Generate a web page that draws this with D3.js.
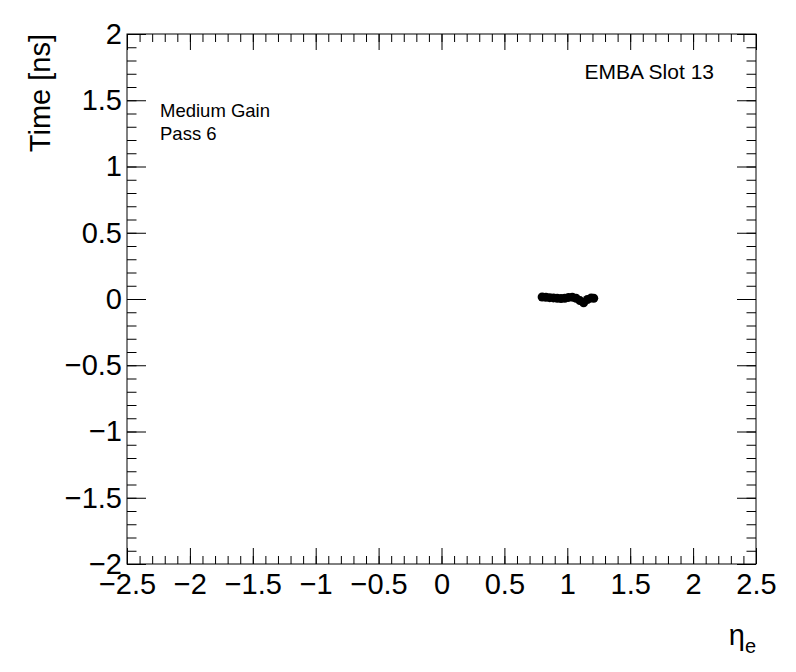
<!DOCTYPE html>
<html>
<head>
<meta charset="utf-8">
<script src="https://cdn.jsdelivr.net/npm/d3@7"></script>
<style>
  body { margin: 0; background: #fff; }
  svg { font-family: "Liberation Sans", Arial, sans-serif; }
</style>
</head>
<body>
<div id="chart"></div>
<script>
// eta positions of the cells and their time offsets (ns)
const etaVals = [0.80, 0.83, 0.86, 0.89, 0.92, 0.95, 0.98, 1.01, 1.04, 1.07, 1.10, 1.13, 1.16, 1.19, 1.21]
const timeVals = [0.015, 0.013, 0.01, 0.008, 0.005, 0.003, 0.006, 0.012, 0.014, 0.006, -0.012, -0.028, -0.004, 0.008, 0.006]
const xTicks = [-2.5, -2, -1.5, -1, -0.5, 0, 0.5, 1, 1.5, 2, 2.5]
const yTicks = [-2, -1.5, -1, -0.5, 0, 0.5, 1, 1.5, 2]
const infoLines = ['Medium Gain', 'Pass 6']
const moduleLabel = 'EMBA Slot 13'

const w = 796
const h = 672
const padL = 127, padR = 756, padT = 34, padB = 564

const x = d3.scaleLinear().domain([-2.5, 2.5]).range([padL, padR])
const y = d3.scaleLinear().domain([-2, 2]).range([padB, padT])

const xMinor = d3.range(-25, 26).map(d => d / 10)
const yMinor = d3.range(-20, 21).map(d => d / 10)
const fmt = d3.format('~g')

const svg = d3.select('#chart').append('svg')
  .attr('width', w)
  .attr('height', h)

// minor ticks (all four sides, pointing inward)
svg.append('g').attr('transform', `translate(0,${padB})`)
  .call(d3.axisBottom(x).tickValues(xMinor).tickSize(-8).tickFormat(''))
svg.append('g').attr('transform', `translate(0,${padT})`)
  .call(d3.axisTop(x).tickValues(xMinor).tickSize(-8).tickFormat(''))
svg.append('g').attr('transform', `translate(${padL},0)`)
  .call(d3.axisLeft(y).tickValues(yMinor).tickSize(-9.5).tickFormat(''))
svg.append('g').attr('transform', `translate(${padR},0)`)
  .call(d3.axisRight(y).tickValues(yMinor).tickSize(-9.5).tickFormat(''))

// major ticks with labels
const xAxis = svg.append('g').attr('transform', `translate(0,${padB})`)
  .call(d3.axisBottom(x).tickValues(xTicks).tickSize(-16).tickPadding(9).tickFormat(fmt))
svg.append('g').attr('transform', `translate(0,${padT})`)
  .call(d3.axisTop(x).tickValues(xTicks).tickSize(-16).tickFormat(''))
const yAxis = svg.append('g').attr('transform', `translate(${padL},0)`)
  .call(d3.axisLeft(y).tickValues(yTicks).tickSize(-19).tickPadding(5).tickFormat(fmt))
svg.append('g').attr('transform', `translate(${padR},0)`)
  .call(d3.axisRight(y).tickValues(yTicks).tickSize(-19).tickFormat(''))

svg.selectAll('.domain').remove()
svg.selectAll('.tick line').attr('stroke', '#000').attr('stroke-width', 1)
xAxis.selectAll('text').attr('font-size', 29).attr('fill', '#000')
  .attr('font-family', '"Liberation Sans", Arial, sans-serif')
yAxis.selectAll('text').attr('font-size', 29).attr('fill', '#000')
  .attr('font-family', '"Liberation Sans", Arial, sans-serif')

// frame
svg.append('rect')
  .attr('x', padL).attr('y', padT)
  .attr('width', padR - padL).attr('height', padB - padT)
  .attr('fill', 'none').attr('stroke', '#000').attr('stroke-width', 1)

// data points
svg.selectAll('circle.pt')
  .data(etaVals.map((e, i) => ({ eta: e, t: timeVals[i] })))
  .enter()
  .append('circle')
  .attr('class', 'pt')
  .attr('cx', d => x(d.eta))
  .attr('cy', d => y(d.t))
  .attr('r', 4.5)
  .attr('fill', '#000')

// axis titles
const xTitle = svg.append('text')
  .attr('x', padR).attr('y', 645)
  .attr('text-anchor', 'end')
  .attr('font-size', 29)
xTitle.append('tspan').text('η')
xTitle.append('tspan').attr('font-size', 20).attr('dy', 8).text('e')

svg.append('text')
  .attr('transform', `translate(50,${padT}) rotate(-90)`)
  .attr('text-anchor', 'end')
  .attr('font-size', 29)
  .text('Time [ns]')

// annotations
svg.append('text')
  .attr('x', 714).attr('y', 79)
  .attr('text-anchor', 'end')
  .attr('font-size', 21)
  .text(moduleLabel)

svg.selectAll('text.info')
  .data(infoLines)
  .enter()
  .append('text')
  .attr('class', 'info')
  .attr('x', 160)
  .attr('y', (d, i) => 116.5 + i * 23)
  .attr('font-size', 18.5)
  .text(d => d)
</script>
</body>
</html>
